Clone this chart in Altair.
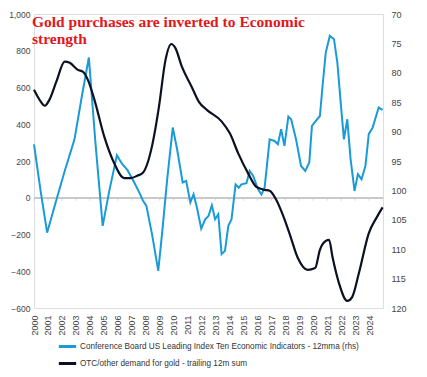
import altair as alt
import pandas as pd

# Light blue series (left axis values)
blue_year = [2000.0, 2000.45, 2000.94, 2001.5, 2002.2, 2002.9, 2003.4, 2003.93, 2004.4, 2004.92,
             2005.4, 2005.94, 2006.3, 2006.7, 2007.2, 2007.6, 2007.8, 2008.05, 2008.47, 2008.9,
             2009.18, 2009.54, 2009.94, 2010.25, 2010.65, 2010.9, 2011.2, 2011.43, 2011.67, 2011.98,
             2012.26, 2012.5, 2012.74, 2012.97, 2013.2, 2013.44, 2013.68, 2013.92, 2014.15, 2014.44,
             2014.67, 2014.86, 2015.22, 2015.45, 2015.7, 2016.05, 2016.29, 2016.52, 2016.88, 2017.23,
             2017.47, 2017.7, 2017.94, 2018.22, 2018.42, 2018.77, 2019.13, 2019.43, 2019.72, 2019.91,
             2020.19, 2020.48, 2020.67, 2020.9, 2021.19, 2021.49, 2021.73, 2021.97, 2022.2, 2022.44,
             2022.68, 2022.96, 2023.2, 2023.46, 2023.74, 2023.98, 2024.26, 2024.69, 2024.97]
blue_val = [291, 50, -190, -40, 146, 318, 540, 763, 300, -153,
            40, 231, 185, 150, 80, 20, -15, -44, -205, -398,
            -190, 100, 382, 264, 83, 92, -26, 19, -53, -168,
            -117, -99, -41, -117, -90, -307, -289, -153, -117, 73,
            55, 73, 79, 146, 119, 46, 18, 55, 318, 309,
            291, 373, 282, 442, 427, 318, 173, 146, 192, 391,
            418, 445, 608, 790, 881, 863, 736, 518, 318, 427,
            209, 37, 128, 101, 173, 346, 382, 491, 478]

# Black series (right axis values, inverted scale)
black_year = [2000.0, 2000.4, 2000.78, 2001.1, 2001.6, 2002.2, 2002.56, 2003.15, 2003.5, 2003.86,
              2004.33, 2005.04, 2005.75, 2006.46, 2006.93, 2007.4, 2007.8, 2008.47, 2008.95, 2009.42,
              2009.84, 2010.13, 2010.6, 2011.3, 2011.8, 2012.38, 2013.45, 2014.03, 2014.63, 2015.34,
              2015.93, 2016.52, 2016.88, 2017.35, 2017.83, 2018.3, 2018.9, 2019.6, 2020.14, 2020.48,
              2020.9, 2021.14, 2021.38, 2021.85, 2022.44, 2022.8, 2023.27, 2023.98, 2024.57, 2024.97]
black_val = [82.9, 84.6, 85.6, 84.6, 81.5, 78.1, 78.3, 79.5, 79.8, 81.2,
             84.6, 90.9, 95.4, 97.9, 97.9, 97.5, 97.0, 92.3, 85.8, 77.8,
             75.1, 75.8, 79.0, 82.4, 84.9, 86.3, 88.3, 90.3, 93.7, 97.1,
             99.4, 99.9, 100.05, 101.6, 104.2, 107.3, 111.5, 113.5, 113.2, 110.1,
             108.6, 108.4, 111.3, 115.8, 118.8, 118.1, 114.1, 107.3, 104.5, 102.9]

tick_years = list(range(2000, 2025))
left_ticks = list(range(-600, 1001, 200))
right_ticks = list(range(70, 121, 5))

blue_name = "Conference Board US Leading Index Ten Economic Indicators - 12mma (rhs)"
black_name = "OTC/other demand for gold - trailing 12m sum"
title_lines = ["Gold purchases are inverted to Economic", "strength"]

BLUE = "#1a9bd7"
BLACK = "#0b1122"
LBL = "#444444"
FONT = "Liberation Sans"

blue_df = pd.DataFrame({"year": blue_year, "value": blue_val, "series": blue_name})
black_df = pd.DataFrame({"year": black_year, "value": black_val, "series": black_name})
tick_df = pd.DataFrame({"year": tick_years, "zero": 0})

x_enc = alt.X("year:Q", scale=alt.Scale(domain=[2000, 2025], nice=False, zero=False),
              axis=alt.Axis(values=tick_years, format="d", labelAngle=270, labelAlign="right",
                            labelBaseline="middle", labelFontSize=9, labelColor=LBL, labelFont=FONT,
                            domain=False, ticks=False, grid=False, title=None, labelPadding=7,
                            labelOverlap=False))

color_enc = alt.Color("series:N",
                      scale=alt.Scale(domain=[blue_name, black_name], range=[BLUE, BLACK]),
                      legend=alt.Legend(orient="none", legendX=23, legendY=322, title=None,
                                        symbolType="stroke", symbolStrokeWidth=3, symbolSize=300,
                                        labelFontSize=8.2, labelColor="#333333", labelFont=FONT,
                                        rowPadding=-3, labelOffset=2, labelLimit=400))

left_scale = alt.Scale(domain=[-600, 1000], nice=False, zero=False)
left_axis = alt.Axis(values=left_ticks, labelFontSize=8.5, labelColor=LBL, labelFont=FONT,
                     domain=False, ticks=False, grid=False, title=None, labelPadding=4)

zero_rule = alt.Chart(tick_df).mark_rule(color="#c8c8c8", strokeWidth=1).encode(
    y=alt.Y("zero:Q", scale=left_scale, axis=left_axis))
zero_ticks = alt.Chart(tick_df).mark_tick(color="#c8c8c8", orient="vertical", size=3,
                                          thickness=1, yOffset=1.5).encode(
    x=x_enc, y=alt.Y("zero:Q", scale=left_scale, axis=left_axis))

blue_line = alt.Chart(blue_df).mark_line(strokeWidth=2).encode(
    x=x_enc, y=alt.Y("value:Q", scale=left_scale, axis=left_axis), color=color_enc)

black_line = alt.Chart(black_df).mark_line(strokeWidth=2.2, interpolate="monotone").encode(
    x=x_enc,
    y=alt.Y("value:Q", scale=alt.Scale(domain=[70, 120], reverse=True, nice=False, zero=False),
            axis=alt.Axis(values=right_ticks, orient="right", labelFontSize=9, labelColor=LBL,
                          labelFont=FONT, domain=False, ticks=False, grid=False, title=None,
                          labelPadding=8)),
    color=color_enc)

title1 = alt.Chart(tick_df.head(1)).mark_text(
    text=title_lines[0], font="Liberation Serif", fontSize=15.5, fontWeight="bold",
    color="#e3161b", align="left", baseline="alphabetic").encode(x=alt.value(-2), y=alt.value(13))
title2 = alt.Chart(tick_df.head(1)).mark_text(
    text=title_lines[1], font="Liberation Serif", fontSize=15.5, fontWeight="bold",
    color="#e3161b", align="left", baseline="alphabetic").encode(x=alt.value(-2), y=alt.value(30))

left_group = alt.layer(zero_rule, zero_ticks, blue_line)
chart = alt.layer(left_group, black_line, title1, title2).resolve_scale(y="independent").properties(
    width=349, height=294,
    autosize=alt.AutoSizeParams(type="none"),
    padding={"left": 26, "top": 6, "right": 36, "bottom": 61},
).configure_view(stroke=None).configure(background="white")

chart.save("out.html", embed_options={"renderer": "svg", "actions": False})
